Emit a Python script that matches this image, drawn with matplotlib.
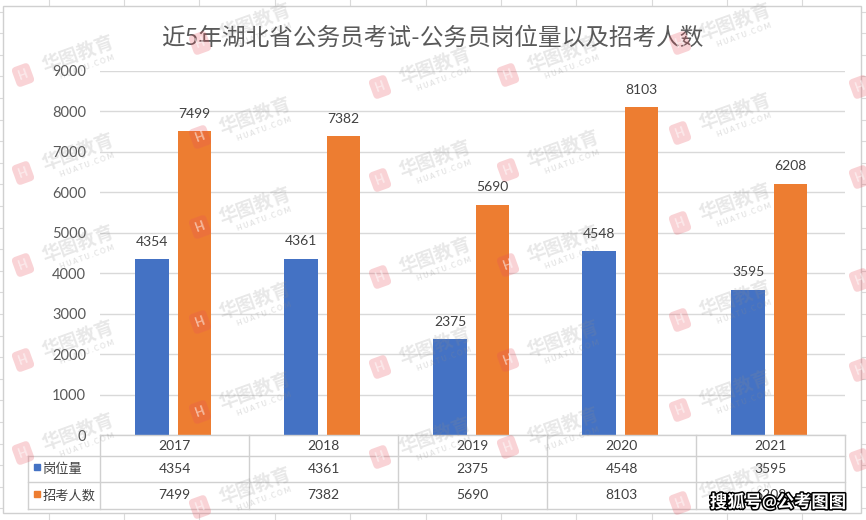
import matplotlib
matplotlib.use("Agg")
import matplotlib.pyplot as plt
import matplotlib.transforms as mtransforms
import matplotlib.patheffects as pe

plt.rcParams['font.family'] = ['Lato', 'Noto Sans CJK SC', 'DejaVu Sans']

# 数据
title = "近5年湖北省公务员考试-公务员岗位量以及招考人数"
years = ["2017", "2018", "2019", "2020", "2021"]
series_names = ["岗位量", "招考人数"]
posts = [4354, 4361, 2375, 4548, 3595]
applicants = [7499, 7382, 5690, 8103, 6208]
colors = ["#4472C4", "#ED7D31"]
yticks = list(range(0, 9001, 1000))

W, H = 866, 520
fig = plt.figure(figsize=(W / 100, H / 100), dpi=100)
fig.patch.set_facecolor("white")

# 背景：表格网格 + 图表区
bg = fig.add_axes([0, 0, 1, 1], zorder=-1)
bg.set_xlim(0, W)
bg.set_ylim(H, 0)
bg.axis("off")
x = 48.5
while x < W:
    bg.plot([x, x], [0, H], color="#DADADA", lw=0.8)
    x += 75.4
y = 11.6
while y < H:
    bg.plot([0, W], [y, y], color="#DADADA", lw=0.8)
    y += 21.6
bg.add_patch(plt.Rectangle((3, 6), 858, 507, facecolor="white",
                           edgecolor="#D0D0D0", lw=1.0, zorder=3))

# 主图
ax = fig.add_axes([100 / W, 1 - 435.2 / H, 745 / W, 364.5 / H])
ax.set_facecolor("none")
idx = list(range(len(years)))
bw = 0.222
b1 = ax.bar([i - 0.151 for i in idx], posts, width=bw, color=colors[0], zorder=2)
b2 = ax.bar([i + 0.134 for i in idx], applicants, width=bw, color=colors[1], zorder=2)
for bars, vals in ((b1, posts), (b2, applicants)):
    for r, v in zip(bars, vals):
        ax.annotate(str(v), (r.get_x() + r.get_width() / 2, v),
                    xytext=(0, 12.5), textcoords="offset points",
                    ha="center", va="center", fontsize=10, color="#404040")

ax.set_xlim(-0.5, len(years) - 0.5)
ax.set_ylim(0, 9000)
ax.set_yticks(yticks)
ax.set_xticks([])
ax.tick_params(axis="y", length=0, pad=10, labelsize=10.5, labelcolor="#595959")
ax.yaxis.grid(True, color="#D9D9D9", lw=1.0)
ax.set_axisbelow(True)
for s in ax.spines.values():
    s.set_visible(False)

# 数据表
tr = mtransforms.blended_transform_factory(ax.transData, ax.transAxes)
lc = "#D0D0D0"
rows_y = [0, -0.0576, -0.129, -0.203]
left_x = -0.983
n = len(years)
ax.plot([-0.5, n - 0.5], [0, 0], color=lc, lw=1, transform=tr, clip_on=False)
for yy in rows_y[1:]:
    ax.plot([left_x, n - 0.5], [yy, yy], color=lc, lw=1, transform=tr, clip_on=False)
for i in range(n + 1):
    ax.plot([i - 0.5, i - 0.5], [0, rows_y[-1]], color=lc, lw=1, transform=tr, clip_on=False)
ax.plot([left_x, left_x], [rows_y[1], rows_y[-1]], color=lc, lw=1, transform=tr, clip_on=False)

centers = [-0.0285, -0.0927, -0.165]
for i, yr in enumerate(years):
    ax.text(i, centers[0], yr, transform=tr, ha="center", va="center",
            fontsize=10, color="#404040")
    ax.text(i, centers[1], str(posts[i]), transform=tr, ha="center", va="center",
            fontsize=10, color="#404040")
    ax.text(i, centers[2], str(applicants[i]), transform=tr, ha="center", va="center",
            fontsize=10, color="#404040")
for k, name in enumerate(series_names):
    ax.plot([-0.921], [centers[k + 1] + 0.005], marker="s", ms=4.5, color=colors[k],
            transform=tr, clip_on=False, lw=0)
    ax.text(-0.885, centers[k + 1], name, transform=tr, ha="left", va="center",
            fontsize=9.5, color="#404040")

fig.text(432.5 / W, 1 - 37 / H, title, ha="center", va="center",
         fontsize=17, color="#595959")

# 水印
fg = fig.add_axes([0, 0, 1, 1], zorder=5)
fg.set_xlim(0, W)
fg.set_ylim(H, 0)
fg.axis("off")
fg.patch.set_visible(False)
wm_cols = {23: [75, 173, 265, 360, 453], 200: [43, 137, 227, 322, 412, 507],
           380: [87, 180, 277, 367, 457], 508: [75, 170, 265, 360, 447],
           680: [43, 133, 223, 320, 410, 503], 860: [87, 177, 280, 370, 460]}
for lx, ys in wm_cols.items():
    for ly in ys:
        fg.text(lx, ly, "H", rotation=20, ha="center", va="center", fontsize=9,
                fontweight="bold", color="white", alpha=0.5,
                bbox=dict(boxstyle="round,pad=0.35", fc="#E8505C", ec="none", alpha=0.25))
        fg.text(lx + 55, ly - 22, "华图教育", rotation=20, ha="center", va="center",
                fontsize=13.5, fontweight="bold", color="#8C8C8C", alpha=0.2)
        fg.text(lx + 64, ly - 8, "H U A T U . C O M", rotation=20, ha="center",
                va="center", fontsize=5, fontweight="bold", color="#8C8C8C", alpha=0.25)

fg.text(778, 502, "搜狐号@公考图图", ha="center", va="center", fontsize=12.5,
        fontweight="bold", color="white",
        path_effects=[pe.withStroke(linewidth=2.2, foreground="black")])

fig.savefig("out.png", dpi=100)
